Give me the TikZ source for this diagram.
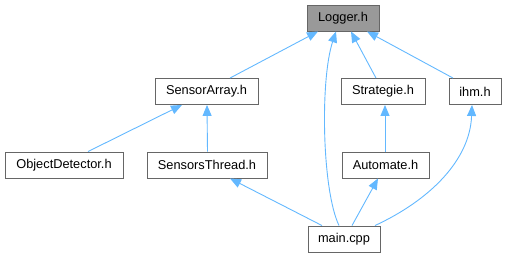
\documentclass[tikz,border=0pt]{standalone}
\usepackage{fontspec}
\setmainfont{Liberation Sans}
\usetikzlibrary{arrows.meta}
\definecolor{edgeblue}{HTML}{63B8FF}
\definecolor{boxborder}{HTML}{666666}
\definecolor{boxgray}{HTML}{999999}
\tikzset{
  box/.style={draw=boxborder, line width=0.9pt, fill=white, minimum height=26pt, inner sep=0pt, font=\fontsize{12.8}{14}\selectfont, anchor=center},
  hl/.style={box, fill=boxgray},
  edge/.style={draw=edgeblue, line width=0.9pt, -{Triangle[length=11pt,width=9pt]}, shorten >=0pt}
}
\begin{document}
\begin{tikzpicture}[x=1pt,y=-1pt]
\useasboundingbox (0,0) rectangle (507,257);
\node[hl, minimum width=72pt] (log) at (343,18) {Logger.h};
\node[box, minimum width=103pt] (sa) at (206.5,91.5) {SensorArray.h};
\node[box, minimum width=84pt] (str) at (383,91.5) {Strategie.h};
\node[box, minimum width=52pt] (ihm) at (475,91.5) {ihm.h};
\node[box, minimum width=118pt] (od) at (64,165) {ObjectDetector.h};
\node[box, minimum width=120pt] (st) at (207,165) {SensorsThread.h};
\node[box, minimum width=87pt] (aut) at (385.5,165) {Automate.h};
\node[box, minimum width=72pt] (main) at (344,239) {main.cpp};
% edges
\draw[edge] ([xshift=23.5pt]sa.north) -- ([xshift=-25pt]log.south);
\draw[edge] ([xshift=-5pt]main.north) .. controls (322,190) and (320,80) .. ([xshift=-7pt]log.south);
\draw[edge] ([xshift=-7pt]str.north) -- ([xshift=8pt]log.south);
\draw[edge] ([xshift=-22pt]ihm.north) -- ([xshift=24pt]log.south);
\draw[edge] ([xshift=24pt]od.north) -- ([xshift=-24.5pt]sa.south);
\draw[edge] ([xshift=0.5pt]st.north) -- ([xshift=0.5pt]sa.south);
\draw[edge] ([xshift=-0.5pt]aut.north) -- ([xshift=2pt]str.south);
\draw[edge] ([xshift=-22pt]main.north) -- ([xshift=23pt]st.south);
\draw[edge] ([xshift=8pt]main.north) -- ([xshift=-7.5pt]aut.south);
\draw[edge] ([xshift=31pt]main.north) .. controls (430,200) and (470,160) .. ([xshift=-3pt]ihm.south);
\end{tikzpicture}
\end{document}
